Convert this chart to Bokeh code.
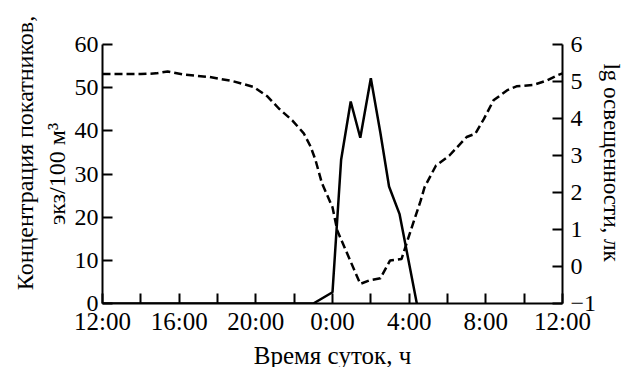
from bokeh.plotting import figure
from bokeh.models import Range1d, LinearAxis, FixedTicker
from bokeh.embed import file_html
from bokeh.resources import INLINE

# hours since 12:00 (0..24)
conc_hours = [0, 11.0, 12.0, 12.45, 12.95, 13.45, 14.0, 14.5, 14.95, 15.5, 16.4]
conc_vals = [0, 0, 2.6, 33.3, 46.8, 38.4, 52.2, 39.5, 27.1, 20.7, 0]

lg_hours = [0, 2.0, 2.8, 3.4, 4.2, 5.6, 6.8, 7.9, 8.6, 9.2, 9.9, 10.5, 10.85,
            11.1, 11.45, 12.0, 12.25, 12.85, 13.45, 13.9, 14.5, 15.0, 15.6,
            16.1, 16.6, 16.8, 17.4, 18.1, 19.0, 19.45, 19.9, 20.4, 21.1, 21.6,
            22.5, 23.2, 23.7, 24.0]
lg_vals = [5.2, 5.2, 5.22, 5.27, 5.19, 5.12, 5.01, 4.85, 4.6, 4.27, 3.95, 3.6,
           3.25, 2.9, 2.25, 1.6, 0.97, 0.25, -0.47, -0.38, -0.32, 0.16, 0.2,
           1.0, 1.78, 2.14, 2.73, 3.0, 3.5, 3.59, 3.99, 4.49, 4.76, 4.87, 4.91,
           5.03, 5.16, 5.22]

x_ticks = [0, 4, 8, 12, 16, 20, 24]
x_minor = [2, 6, 10, 14, 18, 22]
x_labels = ["12:00", "16:00", "20:00", "0:00", "4:00", "8:00", "12:00"]
left_ticks = [0, 10, 20, 30, 40, 50, 60]
right_ticks = [-1, 0, 1, 2, 3, 4, 5, 6]
right_title = "lg освещенности, лк"

FONT = "Liberation Serif"
NB = "\u00a0"

p = figure(frame_width=460, frame_height=259, output_backend="svg",
           toolbar_location=None,
           x_range=Range1d(0, 24), y_range=Range1d(0, 60),
           min_border_left=102, min_border_right=20, min_border_top=44,
           min_border_bottom=20)
p.outline_line_color = None
p.grid.visible = False
p.background_fill_color = "white"
p.border_fill_color = "white"
p.extra_y_ranges = {"lg": Range1d(-1, 6)}

p.line(conc_hours, conc_vals, line_color="black", line_width=2.5)
p.line(lg_hours, lg_vals, y_range_name="lg", line_color="black",
       line_width=2.5, line_dash="8 4")

right = LinearAxis(y_range_name="lg")
p.add_layout(right, "right")

def style(ax, tick_size, title_size):
    ax.axis_line_color = "black"
    ax.axis_line_width = 2
    ax.major_tick_line_color = "black"
    ax.major_tick_line_width = 2
    ax.minor_tick_line_color = "black"
    ax.minor_tick_line_width = 2
    ax.major_tick_in = 10
    ax.major_tick_out = 0
    ax.minor_tick_in = 0
    ax.minor_tick_out = 0
    ax.major_label_text_font = FONT
    ax.major_label_text_font_size = tick_size
    ax.major_label_text_color = "black"
    ax.axis_label_text_font = FONT
    ax.axis_label_text_font_size = title_size
    ax.axis_label_text_font_style = "normal"
    ax.axis_label_text_color = "black"

xa = p.xaxis[0]
ya = p.yaxis[0]
style(xa, "25px", "25px")
style(ya, "24px", "24px")
style(right, "24px", "23px")

xa.ticker = FixedTicker(ticks=x_ticks, minor_ticks=x_minor)
xa.minor_tick_in = 10
xa.major_label_overrides = {t: l for t, l in zip(x_ticks, x_labels)}
xa.axis_label = "Время суток, ч"
xa.major_label_standoff = 4
xa.axis_label_standoff = 4

ya.ticker = FixedTicker(ticks=left_ticks)
ya.axis_label = NB * 7 + "Концентрация покатников,\nэкз/100 м³"
ya.major_label_standoff = 4
ya.axis_label_standoff = 2

right.ticker = FixedTicker(ticks=right_ticks)
right.major_label_overrides = {-1: "−1"}
right.major_label_standoff = 8
right.axis_label = right_title + NB * 4
right.axis_label_orientation = "vertical"
right.axis_label_standoff = 0

open("out.html", "w").write(file_html(p, INLINE))
